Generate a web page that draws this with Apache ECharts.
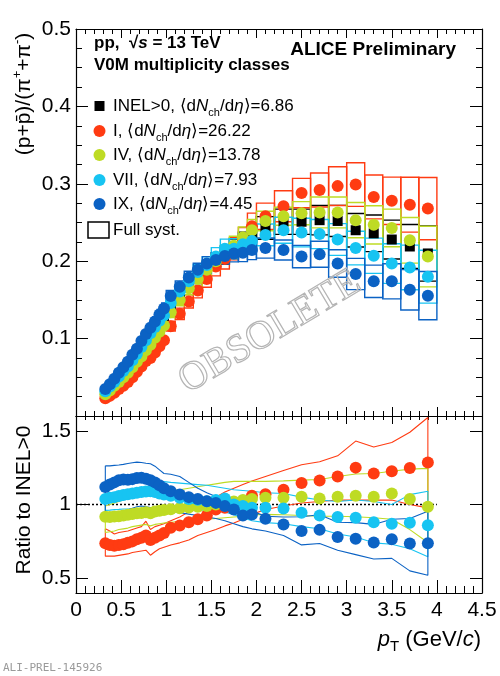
<!DOCTYPE html>
<html><head><meta charset="utf-8">
<script src="https://cdn.jsdelivr.net/npm/echarts@6/dist/echarts.min.js"></script>
<style>html,body{margin:0;padding:0;background:#fff}#c{width:500px;height:676px}</style>
</head><body><div id="c"></div>
<script>
// ---- data ----
const pT = [0.325,0.375,0.425,0.475,0.525,0.575,0.625,0.675,0.725,0.775,0.825,0.875,0.925,0.975,
  1.05,1.15,1.25,1.35,1.45,1.55,1.65,1.75,1.85,1.95,
  2.1,2.3,2.5,2.7,2.9,3.1,3.3,3.5,3.7,3.9];
const binW = [0.05,0.05,0.05,0.05,0.05,0.05,0.05,0.05,0.05,0.05,0.05,0.05,0.05,0.05,
  0.1,0.1,0.1,0.1,0.1,0.1,0.1,0.1,0.1,0.1,
  0.2,0.2,0.2,0.2,0.2,0.2,0.2,0.2,0.2,0.2];
const yTicksTop = [0.1,0.2,0.3,0.4,0.5];
const yTicksRatio = [0.5,1,1.5];

const valINEL = [0.031,0.036,0.042,0.048,0.054,0.060,0.067,0.074,0.082,0.090,0.098,0.106,0.114,0.122,
  0.138,0.154,0.168,0.180,0.191,0.200,0.208,0.216,0.224,0.231,
  0.243,0.251,0.251,0.253,0.252,0.240,0.236,0.228,0.219,0.210];
const valI = [0.023,0.026,0.030,0.035,0.039,0.044,0.050,0.057,0.064,0.071,0.075,0.082,0.090,0.098,
  0.116,0.132,0.148,0.162,0.177,0.193,0.203,0.216,0.228,0.245,
  0.258,0.271,0.288,0.292,0.297,0.299,0.283,0.278,0.273,0.268];
const valIV = [0.028,0.033,0.039,0.044,0.050,0.056,0.063,0.070,0.077,0.085,0.092,0.101,0.109,0.117,
  0.134,0.150,0.165,0.177,0.189,0.200,0.209,0.220,0.231,0.240,
  0.252,0.258,0.262,0.263,0.263,0.253,0.247,0.243,0.227,0.206];
const valVII = [0.032,0.038,0.044,0.051,0.058,0.064,0.072,0.080,0.089,0.098,0.107,0.115,0.123,0.130,
  0.146,0.161,0.174,0.186,0.195,0.206,0.216,0.216,0.222,0.226,
  0.234,0.240,0.237,0.235,0.228,0.217,0.207,0.197,0.192,0.180];
const valIX = [0.035,0.041,0.048,0.056,0.063,0.070,0.079,0.087,0.097,0.106,0.114,0.122,0.131,0.139,
  0.155,0.167,0.179,0.189,0.197,0.2015,0.2067,0.210,0.211,0.2145,
  0.217,0.2145,0.206,0.209,0.197,0.1835,0.174,0.174,0.163,0.1555];

// relative full systematic uncertainties (upper panel boxes)
const sysINEL = [0.05,0.048,0.046,0.045,0.045,0.045,0.045,0.045,0.045,0.045,0.045,0.045,0.045,0.045,
  0.046,0.047,0.048,0.05,0.052,0.054,0.056,0.058,0.06,0.062,
  0.06,0.065,0.065,0.075,0.08,0.09,0.10,0.11,0.13,0.17];
const sysI = [0.06,0.058,0.056,0.055,0.055,0.055,0.055,0.055,0.055,0.055,0.055,0.055,0.055,0.055,
  0.055,0.056,0.057,0.058,0.06,0.062,0.064,0.066,0.068,0.07,
  0.066,0.074,0.066,0.075,0.084,0.094,0.10,0.11,0.13,0.15];
const sysIV = [0.055,0.053,0.052,0.05,0.05,0.05,0.05,0.05,0.05,0.05,0.05,0.05,0.05,0.05,
  0.05,0.05,0.051,0.052,0.053,0.054,0.055,0.056,0.057,0.058,
  0.05,0.045,0.057,0.076,0.076,0.09,0.10,0.10,0.13,0.19];
const sysVII = [0.055,0.053,0.052,0.05,0.05,0.05,0.05,0.05,0.05,0.05,0.05,0.05,0.05,0.05,
  0.05,0.05,0.051,0.052,0.054,0.056,0.058,0.06,0.06,0.06,
  0.06,0.07,0.078,0.08,0.09,0.10,0.11,0.13,0.15,0.19];
const sysIX = [0.055,0.053,0.052,0.05,0.05,0.05,0.05,0.05,0.05,0.05,0.05,0.05,0.05,0.05,
  0.046,0.045,0.045,0.044,0.045,0.047,0.05,0.052,0.055,0.058,
  0.06,0.06,0.07,0.08,0.09,0.11,0.12,0.13,0.16,0.20];

// ratios to INEL>0
const ratI = [0.737,0.725,0.72,0.725,0.73,0.74,0.75,0.765,0.775,0.79,0.76,0.775,0.79,0.806,
  0.843,0.858,0.88,0.90,0.926,0.966,0.978,1.0,1.02,1.06,
  1.07,1.10,1.146,1.162,1.19,1.25,1.21,1.226,1.248,1.285];
const ratIV = [0.917,0.915,0.918,0.921,0.925,0.93,0.935,0.94,0.943,0.947,0.94,0.952,0.958,0.963,
  0.968,0.975,0.98,0.985,0.99,1.0,1.005,1.02,1.03,1.038,
  1.045,1.045,1.052,1.04,1.052,1.06,1.052,1.074,1.038,0.984];
const ratVII = [1.038,1.045,1.05,1.058,1.065,1.07,1.075,1.08,1.085,1.088,1.09,1.085,1.075,1.067,
  1.06,1.045,1.038,1.032,1.022,1.03,1.04,1.0,0.99,0.978,
  0.978,0.973,0.944,0.926,0.915,0.91,0.88,0.87,0.876,0.86];
const ratIX = [1.119,1.135,1.15,1.165,1.17,1.168,1.172,1.18,1.182,1.175,1.165,1.15,1.13,1.11,
  1.09,1.067,1.05,1.038,1.022,1.011,0.989,0.966,0.926,0.933,
  0.903,0.865,0.82,0.828,0.78,0.767,0.743,0.765,0.735,0.737];

// ratio systematic band edges (lower panel lines): upper and lower edge per class
const hiI = [0.836,0.82,0.80,0.81,0.815,0.82,0.83,0.84,0.85,0.887,0.83,0.85,0.86,0.87,
  0.89,0.915,0.95,0.98,1.01,1.05,1.085,1.11,1.135,1.16,
  1.19,1.23,1.27,1.29,1.33,1.43,1.39,1.42,1.49,1.59];
const loI = [0.65,0.65,0.65,0.655,0.66,0.665,0.675,0.68,0.685,0.69,0.656,0.68,0.70,0.71,
  0.725,0.74,0.76,0.79,0.81,0.83,0.855,0.875,0.90,0.933,
  0.966,0.99,1.01,1.02,1.03,1.03,1.03,1.03,1.0,0.977];
const hiIV = [0.99,1.0,1.01,1.02,1.03,1.04,1.05,1.06,1.07,1.08,1.075,1.08,1.085,1.09,
  1.095,1.10,1.11,1.12,1.13,1.14,1.15,1.157,1.157,1.157,
  1.157,1.16,1.165,1.17,1.19,1.207,1.21,1.225,1.24,1.245];
const loIV = [0.81,0.815,0.82,0.83,0.835,0.84,0.85,0.855,0.86,0.865,0.855,0.865,0.87,0.875,
  0.88,0.885,0.89,0.895,0.90,0.905,0.91,0.915,0.92,0.93,
  0.933,0.93,0.925,0.92,0.92,0.917,0.91,0.90,0.83,0.742];
const hiVII = [1.12,1.125,1.13,1.135,1.14,1.145,1.15,1.155,1.16,1.16,1.16,1.158,1.156,1.155,
  1.15,1.145,1.14,1.135,1.13,1.12,1.11,1.10,1.095,1.09,
  1.08,1.075,1.05,1.03,1.02,1.03,1.02,1.0,1.067,1.09];
const loVII = [0.96,0.962,0.965,0.967,0.97,0.97,0.97,0.97,0.97,0.97,0.97,0.97,0.97,0.97,
  0.97,0.97,0.97,0.965,0.96,0.955,0.95,0.93,0.91,0.89,
  0.877,0.87,0.85,0.836,0.80,0.78,0.74,0.73,0.70,0.645];
const hiIX = [1.263,1.262,1.265,1.268,1.272,1.278,1.283,1.287,1.285,1.28,1.276,1.26,1.235,1.21,
  1.205,1.19,1.15,1.11,1.08,1.055,1.03,1.005,0.98,0.955,
  0.92,0.915,0.917,0.93,0.88,0.877,0.865,0.90,0.905,0.955];
const loIX = [0.91,0.915,0.93,0.945,0.955,0.965,0.975,0.985,0.99,0.985,0.98,0.975,0.97,0.965,
  0.955,0.945,0.935,0.925,0.915,0.905,0.89,0.87,0.85,0.835,
  0.82,0.79,0.726,0.736,0.69,0.66,0.63,0.635,0.55,0.52];

// ---- style ----
const F = 'Liberation Sans, Arial, sans-serif';
const cINEL = '#000000', cI = '#ff3b12', cIV = '#bedb24', cVII = '#17c4f2', cIX = '#0b62c4';
const MS = 12;

function boxSeries(vals, sys, color, z) {
  return {
    type: 'custom', xAxisIndex: 0, yAxisIndex: 0, z: z, silent: true, clip: true, animation: false,
    data: pT.map((p, i) => [p, vals[i], sys[i], binW[i]]),
    renderItem: function (params, api) {
      const x = api.value(0), y = api.value(1), s = api.value(2), w = api.value(3);
      const a = api.coord([x - w / 2, y * (1 + s)]);
      const b = api.coord([x + w / 2, y * (1 - s)]);
      return { type: 'rect', shape: { x: a[0], y: a[1], width: b[0] - a[0], height: b[1] - a[1] },
        style: { fill: 'none', stroke: color, lineWidth: 1.4 } };
    }
  };
}
function pointSeries(vals, color, symbol, size, xi, yi, z) {
  return { type: 'scatter', xAxisIndex: xi, yAxisIndex: yi, z: z, silent: true, animation: false,
    data: pT.map((p, i) => [p, vals[i]]), symbol: symbol, symbolSize: size,
    itemStyle: { color: color, opacity: 1 } };
}
function bandSeries(hi, lo, color, z) {
  const up = pT.map((p, i) => [p, hi[i]]);
  const dn = pT.map((p, i) => [p, lo[i]]).reverse();
  const data = up.concat(dn, [up[0]]);
  return { type: 'line', xAxisIndex: 1, yAxisIndex: 2, z: z, silent: true, animation: false,
    data: data, symbol: 'none', lineStyle: { color: color, width: 1.1 } };
}

const axLine = { show: true, onZero: false, lineStyle: { color: '#000', width: 1.2 } };
function xAx(grid, pos, labels, tickLen, minorLen) {
  return { type: 'value', gridIndex: grid, position: pos, min: 0, max: 4.5, interval: 0.5,
    axisLine: axLine, splitLine: { show: false },
    axisTick: { show: true, inside: true, length: tickLen, lineStyle: { color: '#000', width: 1 } },
    minorTick: { show: true, splitNumber: 5, length: minorLen, lineStyle: { color: '#000', width: 1 } },
    minorSplitLine: { show: false },
    axisLabel: labels ? { show: true, fontSize: 21, color: '#000', fontFamily: F, margin: 7,
      formatter: v => String(+v.toFixed(1)) } : { show: false } };
}

const option = {
  animation: false,
  backgroundColor: '#fff',
  grid: [
    { left: 76, right: 18, top: 29, height: 387 },
    { left: 76, right: 18, top: 416, height: 177 }
  ],
  xAxis: [
    xAx(0, 'bottom', false, 9, 5),
    xAx(1, 'bottom', true, 13, 7),
    xAx(0, 'top', false, 9, 5),
    xAx(1, 'top', false, 8, 4)
  ],
  yAxis: [
    { type: 'value', gridIndex: 0, position: 'left', min: 0, max: 0.5, interval: 0.1,
      axisLine: axLine, splitLine: { show: false },
      axisTick: { show: true, inside: true, length: 12, lineStyle: { color: '#000' } },
      minorTick: { show: true, splitNumber: 4, length: 6, lineStyle: { color: '#000' } },
      axisLabel: { fontSize: 21, color: '#000', fontFamily: F, margin: 5,
        formatter: v => (yTicksTop.indexOf(+v.toFixed(1)) >= 0 ? (+v.toFixed(1)).toFixed(1) : '') } },
    { type: 'value', gridIndex: 0, position: 'right', min: 0, max: 0.5, interval: 0.1,
      axisLine: axLine, splitLine: { show: false },
      axisTick: { show: true, inside: true, length: 12, lineStyle: { color: '#000' } },
      minorTick: { show: true, splitNumber: 4, length: 6, lineStyle: { color: '#000' } },
      axisLabel: { show: false } },
    { type: 'value', gridIndex: 1, position: 'left', min: 0.4, max: 1.6,
      axisLine: axLine, splitLine: { show: false },
      axisTick: { show: true, inside: true, length: 12, customValues: yTicksRatio, lineStyle: { color: '#000' } },
      axisLabel: { fontSize: 21, color: '#000', fontFamily: F, margin: 5, customValues: yTicksRatio,
        formatter: v => String(+(+v).toFixed(1)) } },
    { type: 'value', gridIndex: 1, position: 'right', min: 0.4, max: 1.6,
      axisLine: axLine, splitLine: { show: false },
      axisTick: { show: true, inside: true, length: 12, customValues: yTicksRatio, lineStyle: { color: '#000' } },
      axisLabel: { show: false } }
  ],
  series: [
    boxSeries(valINEL, sysINEL, cINEL, 2),
    boxSeries(valI, sysI, cI, 2),
    boxSeries(valIV, sysIV, cIV, 2),
    boxSeries(valVII, sysVII, cVII, 2),
    boxSeries(valIX, sysIX, cIX, 2),
    pointSeries(valINEL, cINEL, 'rect', 10, 0, 0, 3),
    pointSeries(valI, cI, 'circle', MS, 0, 0, 3),
    pointSeries(valIV, cIV, 'circle', MS, 0, 0, 3),
    pointSeries(valVII, cVII, 'circle', MS, 0, 0, 3),
    pointSeries(valIX, cIX, 'circle', MS, 0, 0, 3),
    { type: 'line', xAxisIndex: 1, yAxisIndex: 2, z: 2, silent: true, symbol: 'none',
      data: [[0, 1], [4, 1]], lineStyle: { color: '#000', width: 1.6, type: [2, 2] } },
    bandSeries(hiI, loI, cI, 2),
    bandSeries(hiIV, loIV, cIV, 2),
    bandSeries(hiVII, loVII, cVII, 2),
    bandSeries(hiIX, loIX, cIX, 2),
    pointSeries(ratI, cI, 'circle', MS, 1, 2, 3),
    pointSeries(ratIV, cIV, 'circle', MS, 1, 2, 3),
    pointSeries(ratVII, cVII, 'circle', MS, 1, 2, 3),
    pointSeries(ratIX, cIX, 'circle', MS, 1, 2, 3)
  ],
  graphic: []
};

const LF = 17;
const legRich = {
  t: { fontSize: LF, fontFamily: F, color: '#000', lineHeight: 24 },
  i: { fontSize: LF, fontFamily: F, fontStyle: 'italic', color: '#000', lineHeight: 24 },
  s: { fontSize: 11, fontFamily: F, color: '#000', lineHeight: 8, verticalAlign: 'bottom' }
};
function legText(label, val, y) {
  return { type: 'text', x: 113, y: y, z: 10, silent: true,
    style: { text: '{t|' + label + ', \u27E8d}{i|N}{s|ch}{t|/d}{i|\u03B7}{t|\u27E9=' + val + '}',
      rich: legRich, verticalAlign: 'middle', align: 'left' } };
}
const legY = [106, 131, 155, 180, 204, 230];
const g = option.graphic;
g.push({ type: 'rect', shape: { x: 94.5, y: legY[0] - 5, width: 10, height: 10 }, style: { fill: cINEL }, z: 10 });
[cI, cIV, cVII, cIX].forEach((c, k) => g.push({ type: 'circle', shape: { cx: 99.5, cy: legY[k + 1], r: 6 }, style: { fill: c }, z: 10 }));
g.push({ type: 'rect', shape: { x: 88, y: 222, width: 21, height: 16 }, style: { fill: 'none', stroke: '#000', lineWidth: 1.5 }, z: 10 });
g.push(legText('INEL>0', '6.86', legY[0]));
g.push(legText('I', '26.22', legY[1]));
g.push(legText('IV', '13.78', legY[2]));
g.push(legText('VII', '7.93', legY[3]));
g.push(legText('IX', '4.45', legY[4]));
g.push({ type: 'text', x: 113, y: legY[5], z: 10, style: { text: 'Full syst.', font: LF + 'px ' + F, fill: '#000', verticalAlign: 'middle' } });

g.push({ type: 'text', x: 94, y: 43, z: 10, style: {
  text: '{b|pp,  \u221A}{bi|s}{b| = 13 TeV}', verticalAlign: 'middle',
  rich: { b: { fontSize: 17, fontWeight: 'bold', fontFamily: F, color: '#000' },
          bi: { fontSize: 17, fontWeight: 'bold', fontStyle: 'italic', fontFamily: F, color: '#000' } } } });
g.push({ type: 'text', x: 94, y: 65, z: 10, style: { text: 'V0M multiplicity classes', font: 'bold 17px ' + F, fill: '#000', verticalAlign: 'middle' } });
g.push({ type: 'text', x: 456, y: 50, z: 10, style: { text: 'ALICE Preliminary', font: 'bold 19px ' + F, fill: '#000', align: 'right', verticalAlign: 'middle' } });

// y titles
g.push({ type: 'text', x: 24, y: 94, rotation: Math.PI / 2, z: 10, style: {
  text: '{t|(p+p\u0304)/(\u03C0}{u|+}{t|+\u03C0}{u|-}{t|)}', align: 'center', verticalAlign: 'middle',
  rich: { t: { fontSize: 21, fontFamily: F, color: '#000', lineHeight: 26 },
          u: { fontSize: 13, fontFamily: F, color: '#000', lineHeight: 10, verticalAlign: 'top' } } } });
g.push({ type: 'text', x: 24, y: 500, rotation: Math.PI / 2, z: 10, style: {
  text: 'Ratio to INEL>0', font: '21px ' + F, fill: '#000', align: 'center', verticalAlign: 'middle' } });
// x title
g.push({ type: 'text', x: 481, y: 640, z: 10, style: {
  text: '{i|p}{s|T}{t| (GeV/}{i|c}{t|)}', align: 'right', verticalAlign: 'middle',
  rich: { t: { fontSize: 22, fontFamily: F, color: '#000', lineHeight: 28 },
          i: { fontSize: 22, fontFamily: F, fontStyle: 'italic', color: '#000', lineHeight: 28 },
          s: { fontSize: 15, fontFamily: F, color: '#000', lineHeight: 10, verticalAlign: 'bottom' } } } });
g.push({ type: 'text', x: 3, y: 668, z: 10, style: { text: 'ALI-PREL-145926', font: '11px DejaVu Sans Mono, monospace', fill: '#9a9a9a', verticalAlign: 'middle' } });
// watermark
g.push({ type: 'text', x: 270, y: 332, rotation: 0.54, z: 20, silent: true, style: {
  text: 'OBSOLETE', font: '40px Liberation Serif, DejaVu Serif, serif', fill: 'rgba(255,255,255,0)',
  stroke: '#b4b4b4', lineWidth: 1.2, align: 'center', verticalAlign: 'middle' } });

const chart = echarts.init(document.getElementById('c'), null, { renderer: 'canvas' });
chart.setOption(option);
</script></body></html>
